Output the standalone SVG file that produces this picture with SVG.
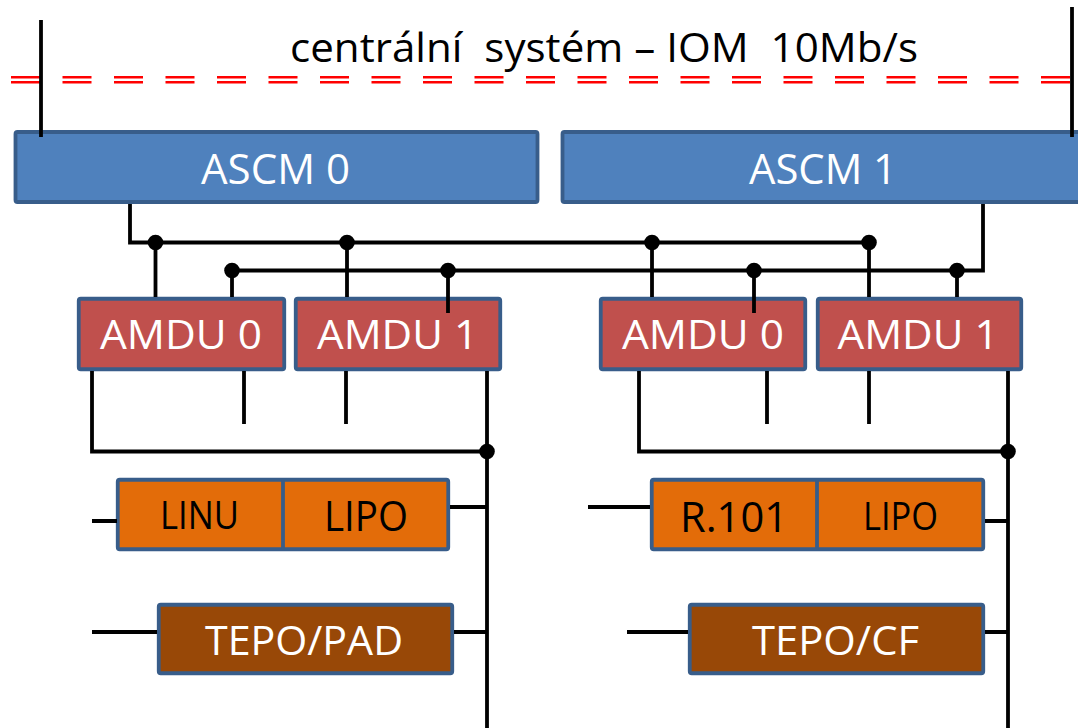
<svg xmlns="http://www.w3.org/2000/svg" width="1078" height="728" viewBox="0 0 1078 728">
<style>
.t{font-family:"Open Sans","Liberation Sans",sans-serif;text-anchor:middle}
.w{fill:#FFFFFF}
.k{fill:#000000}
.ascm{fill:#4F81BD;stroke:#385D8A;stroke-width:3.8}
.amdu{fill:#C0504D;stroke:#385D8A;stroke-width:3.8}
.or{fill:#E36C09;stroke:#385D8A;stroke-width:3.8}
.br{fill:#984807;stroke:#385D8A;stroke-width:3.8}
.ln{fill:none;stroke:#000;stroke-width:3.8}
.red{fill:none;stroke:#FF0000;stroke-width:2.6;stroke-dasharray:29 22.5}
</style>
<rect width="1078" height="728" fill="#FFFFFF"/>
<g id="bus-title">
<text class="t k" x="604" y="62" font-size="41" style="white-space:pre" textLength="628" lengthAdjust="spacingAndGlyphs">centrální  systém – IOM  10Mb/s</text>
<line class="red" x1="11" y1="77.3" x2="1072" y2="77.3"/>
<line class="red" x1="11" y1="82.2" x2="1072" y2="82.2"/>
</g>
<g id="ascm0">
<rect class="ascm" x="15.5" y="132" width="522" height="70" rx="2"/>
<text class="t w" x="275.5" y="184" font-size="42" textLength="149" lengthAdjust="spacingAndGlyphs">ASCM 0</text>
</g>
<g id="ascm1">
<rect class="ascm" x="562.5" y="132" width="530" height="70" rx="2"/>
<text class="t w" x="823" y="184" font-size="42" textLength="148" lengthAdjust="spacingAndGlyphs">ASCM 1</text>
</g>
<g id="amdu0-left">
<rect class="amdu" x="78.75" y="298.75" width="205.5" height="70.5" rx="2"/>
<text class="t w" x="181" y="349" font-size="41" textLength="162" lengthAdjust="spacingAndGlyphs">AMDU 0</text>
</g>
<g id="amdu1-left">
<rect class="amdu" x="295.75" y="298.75" width="204.5" height="70.5" rx="2"/>
<text class="t w" x="397.5" y="349" font-size="41" textLength="161" lengthAdjust="spacingAndGlyphs">AMDU 1</text>
</g>
<g id="amdu0-right">
<rect class="amdu" x="600.75" y="298.75" width="204.5" height="70.5" rx="2"/>
<text class="t w" x="703" y="349" font-size="41" textLength="162" lengthAdjust="spacingAndGlyphs">AMDU 0</text>
</g>
<g id="amdu1-right">
<rect class="amdu" x="817.75" y="298.75" width="203.5" height="70.5" rx="2"/>
<text class="t w" x="918" y="349" font-size="41" textLength="161" lengthAdjust="spacingAndGlyphs">AMDU 1</text>
</g>
<g id="linu-lipo">
<rect class="or" x="117.75" y="479.75" width="330.5" height="69.5" rx="2"/>
<line x1="283" y1="480" x2="283" y2="549" stroke="#385D8A" stroke-width="3.8"/>
<text class="t k" x="199.5" y="529" font-size="38" textLength="79" lengthAdjust="spacingAndGlyphs">LINU</text>
<text class="t k" x="366" y="531" font-size="42" textLength="84" lengthAdjust="spacingAndGlyphs">LIPO</text>
</g>
<g id="tepo-pad">
<rect class="br" x="158.75" y="604.75" width="293.5" height="68.5" rx="2"/>
<text class="t w" x="304" y="655" font-size="41" textLength="198" lengthAdjust="spacingAndGlyphs">TEPO/PAD</text>
</g>
<g id="r101-lipo">
<rect class="or" x="651.75" y="479.75" width="331.5" height="69.5" rx="2"/>
<line x1="817" y1="480" x2="817" y2="549" stroke="#385D8A" stroke-width="3.8"/>
<text class="t k" x="734" y="532" font-size="42" textLength="108" lengthAdjust="spacingAndGlyphs">R.101</text>
<text class="t k" x="900.5" y="530" font-size="38" textLength="75" lengthAdjust="spacingAndGlyphs">LIPO</text>
</g>
<g id="tepo-cf">
<rect class="br" x="689.75" y="604.75" width="293.5" height="68.5" rx="2"/>
<text class="t w" x="835.5" y="655" font-size="41" textLength="167" lengthAdjust="spacingAndGlyphs">TEPO/CF</text>
</g>
<g id="connectors">
<line class="ln" x1="41" y1="20" x2="41" y2="137"/>
<line class="ln" x1="1072" y1="7" x2="1072" y2="137"/>
<path class="ln" d="M130,204 V242.5 H869"/>
<path class="ln" d="M983,204 V270.5 H232"/>
<path class="ln" d="M155.5,242.5 V297 M232,270.5 V297 M347,242.5 V297 M448,270.5 V313 M652,242.5 V297 M754,270.5 V313 M869,242.5 V297 M957,270.5 V297"/>
<path class="ln" d="M92,371 V451.5 H487 M487,371 V728 M244,371 V424 M346,371 V424"/>
<path class="ln" d="M639,371 V451.5 H1008 M1008,371 V728 M767,371 V424 M869,371 V424"/>
<path class="ln" d="M92,521 H117 M450,507 H487 M92,632 H157 M454,632 H487 M588,507 H650 M985,521 H1008 M627,632 H688 M985,632 H1008"/>
<g fill="#000">
<circle cx="155.5" cy="242.5" r="7.8"/>
<circle cx="347" cy="242.5" r="7.8"/>
<circle cx="652" cy="242.5" r="7.8"/>
<circle cx="869" cy="242.5" r="7.8"/>
<circle cx="232" cy="270.5" r="7.8"/>
<circle cx="448" cy="270.5" r="7.8"/>
<circle cx="754" cy="270.5" r="7.8"/>
<circle cx="957" cy="270.5" r="7.8"/>
<circle cx="487" cy="451.5" r="7.8"/>
<circle cx="1008" cy="451.5" r="7.8"/>
</g>
</g>
</svg>
